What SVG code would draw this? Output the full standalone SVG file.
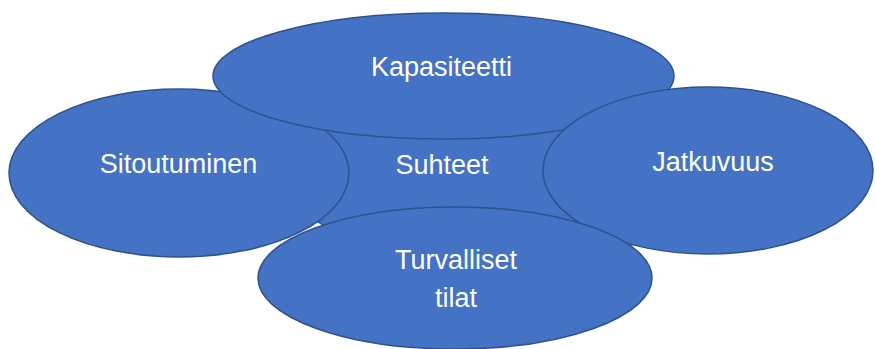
<svg xmlns="http://www.w3.org/2000/svg" width="875" height="349" viewBox="0 0 875 349">
<style>
.n{fill:#4472C4;stroke:#2F528F;stroke-width:1.5}
.t{fill:#FFFFFF;font-family:"Liberation Sans",Arial,sans-serif;font-size:27px;text-anchor:middle}
</style>
<rect width="875" height="349" fill="#FFFFFF"/>
<g id="connectors"></g>
<g id="suhteet"><ellipse class="n" cx="450" cy="163" rx="172" ry="92"/><text class="t" x="442" y="174">Suhteet</text></g>
<g id="sitoutuminen"><ellipse class="n" cx="179" cy="173" rx="170" ry="84"/><text class="t" x="178.5" y="173">Sitoutuminen</text></g>
<g id="kapasiteetti"><ellipse class="n" cx="443.5" cy="76" rx="230.5" ry="63"/><text class="t" x="441.5" y="76">Kapasiteetti</text></g>
<g id="jatkuvuus"><ellipse class="n" cx="708" cy="170.5" rx="165" ry="83.5"/><text class="t" x="713" y="171">Jatkuvuus</text></g>
<g id="turvalliset"><ellipse class="n" cx="455" cy="278" rx="197" ry="71"/><text class="t" x="456" y="269">Turvalliset</text><text class="t" x="456" y="307">tilat</text></g>
</svg>
